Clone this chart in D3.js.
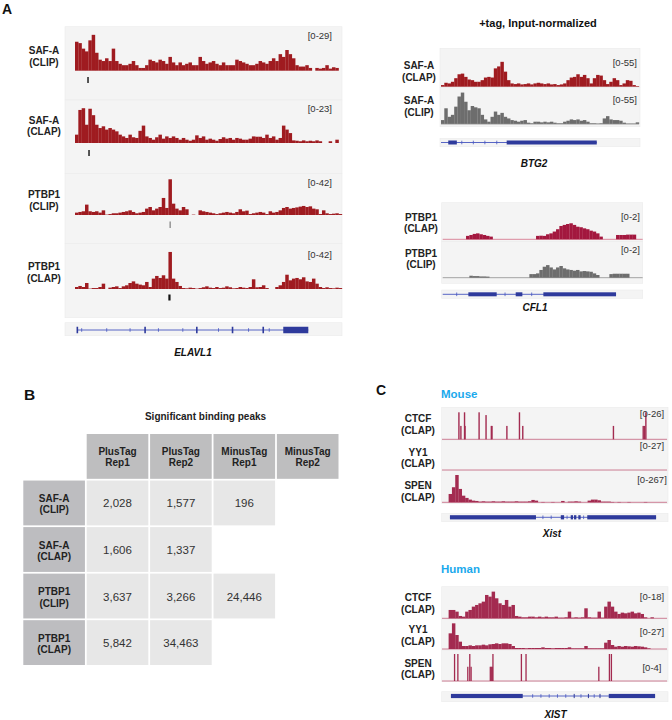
<!DOCTYPE html>
<html><head><meta charset="utf-8">
<script src="https://cdn.jsdelivr.net/npm/d3@7/dist/d3.min.js"></script>
<style>body{margin:0;background:#fff}svg{display:block;font-family:"Liberation Sans",Arial,Helvetica,sans-serif}</style>
</head><body><svg id="fig" width="672" height="720"></svg>
<script>
// ---------------- DATA ----------------
// Panel A left: ELAVL1 locus, 80 bins
const elavl1SafaClip = [21,20,16,14,22,26,13,8,7,9, 7,16,7,5,4,4,5,7,4,2, 2,4,8,7,6,8,7,5,10,6, 4,6,4,5,6,4,4,10,7,5, 6,7,5,4,6,4,4,4,8,7, 6,5,4,4,5,7,6,5,7,9, 7,12,10,15,12,9,4,3,3,4, 2,0,2,1.5,2,4,1.5,2.5,2,0];
const elavl1SafaClap = [4.8,19,20,10.5,19.7,16,10.5,8.6,9.6,7.7, 8.6,7.7,6.7,4.8,3.8,2.9,4.8,3.3,2.9,7, 10,3.8,2.9,1.9,3.3,4.8,2.5,3.8,2.9,3.8, 2.9,1.9,2.9,1.9,1.3,1.9,4.4,2.9,3.8,1.9, 2.5,1.9,1.3,2.3,3.3,2.5,2.9,1.9,2.9,2.5, 1.9,1.9,2.5,3.8,3.6,3.6,2.9,4.8,2.9,3.8, 1.9,2.9,10,7.7,5.7,1.5,1.3,1,1.5,1, 1.3,1,1.5,1,0,0,1,0,1.9,0];
const elavl1PtbpClip = [2.5,3.2,3.9,10.9,3.9,3.2,3.9,2.5,4.9,0.4, 1,1.8,1.8,2.5,3.2,3.9,4.9,3.2,1.8,2.5, 3.2,6.7,8.4,4.9,6.7,8.4,17.9,7.4,37.5,11.9, 6.7,4.9,8.4,6,0,0.4,0,4.9,3.9,3.2, 2.5,1.8,1,1.8,2.5,3.2,2.5,1.8,3.2,6, 3.9,4.6,1,1.8,2.5,3.2,2.5,1,3.9,2.5, 3.2,4.9,7.4,8.4,6.7,7.4,8,8.8,9.5,8.4, 9.1,6.7,6,1,4.9,1.8,1,1.4,1.8,1];
const elavl1PtbpClap = [2.1,3.2,2.1,6.3,0.4,1,1,2.1,5.6,0, 1.4,2.1,2.8,1,2.8,3.9,6.3,8,5.6,4.6, 3.9,7.4,2.1,10.9,13.7,11.6,14.4,10.9,38.9,10.9, 7.4,3.2,1,0.7,1.4,1,0.4,1,1.8,2.8, 1.4,1,2.1,1,1.4,2.8,1.8,0.7,1,2.1, 1.4,1,2.1,10.2,1.8,2.1,3.9,1,0,0, 2.1,3.9,7.4,15,9.1,10.9,11.6,10.2,12.3,8, 7.4,10.9,5.6,2.1,1,1.8,1,0.7,1.4,1];
const elavl1Ranges = ["[0-29]","[0-23]","[0-42]","[0-42]"];
const elavl1Labels = [["SAF-A","(CLIP)"],["SAF-A","(CLAP)"],["PTBP1","(CLIP)"],["PTBP1","(CLAP)"]];
const elavl1Max = [29,23,42,42];
const elavl1PeakPos = [3.9,4.2,28.5,28.3];
const elavl1GeneLine = [0.6,69.9];
const elavl1GeneThick = [[62.4,69.9]];
const elavl1GeneExons = [0.7,21,36.5,47.2,56.4];
const elavl1GeneArrows = [2,9.5,16.5,25,32.3,43,52,58.2];

// Panel A right: BTG2, 60 bins
const btg2SafaClap = [2.5,6,5,7.5,13,19,20,15,11,10, 7.5,7.5,10,14,15,14,28,31,38,23, 10,5,4,5,3.5,4,5,3.5,5,6, 5,4,5,3.5,4,2.5,3.5,5,10,14, 15,19,15,18,13,5,13,18,17,10, 4,7.5,13,10,2.5,5,10,9,2.5,1];
const btg2SafaClip = [6,24,11,14,26.5,42,48,34,21,27.5, 25.5,24,14,7,3.5,11,19,14,17,11, 8.5,6,5,3.5,5,6,2,1,3.5,3.5, 2.5,3.5,2.5,3.5,2,1,1,3.5,5,7, 6,7,5,6,3.5,1,1,0.5,1,8.5, 12,7,6,6,5,2,0.5,0.5,0.5,2.5];
const btg2GeneLine = [0,47.2];
const btg2GeneThick = [[2.2,4.8],[19.9,47.2]];
const btg2GeneArrows = [6.3,9.8,13.3,16.9];

// CFL1, 60 bins
const cfl1PtbpClap = [0,0,0,0,0,0,0, 0.19,0.24,0.3,0.33,0.28,0.24,0.19,0.15, 0, 0,0,0,0,0,0,0,0,0,0,0,0, 0.19,0.2,0.19,0.28,0.33,0.43,0.56,0.74,0.8,0.85,0.89,0.8,0.7,0.67,0.61,0.56,0.48,0.43,0.33,0.15, 0,0,0,0, 0.24,0.24,0.24,0.26,0.26,0.26, 0,0];
const cfl1PtbpClip = [0,0,0,0,0,0,0,0, 0.11,0.09,0.09,0.07,0.07,0.06, 0,0,0,0,0,0,0,0,0,0,0,0, 0.2,0.2,0.24,0.43,0.61,0.7,0.57,0.46,0.57,0.65,0.52,0.46,0.43,0.39,0.43,0.35,0.37,0.35,0.33,0.24,0.15, 0,0,0, 0.2,0.22,0.22,0.22,0.22,0.22, 0,0,0,0];
const cfl1GeneLine = [0,52];
const cfl1GeneThick = [[7.7,16.2],[21.9,23.9],[30.2,52]];
const cfl1GeneArrows = [4.2,18.7,26.7];

// Panel B table
const tableCols = [["PlusTag","Rep1"],["PlusTag","Rep2"],["MinusTag","Rep1"],["MinusTag","Rep2"]];
const tableRows = [["SAF-A","(CLIP)"],["SAF-A","(CLAP)"],["PTBP1","(CLIP)"],["PTBP1","(CLAP)"]];
const tableValues = [[2028,1577,196,null],[1606,1337,null,null],[3637,3266,24446,null],[5842,34463,null,null]];

// Panel C: Xist / XIST, 68 bins
const mouseCtcfPos = [4.9,5.5,6.6,6.75,11,13.1,14.7,14.9,19.4,23.2,24.2,51.6,60.6,61,61.4];
const mouseCtcfVal = [23.4,11.6,23.4,11.6,23.4,21,11.6,11.6,11.6,23.4,11.6,11.6,11.6,11.6,23.4];
const mouseYy1 = [];
const mouseSpen = [0,0,74,134,243,119,59,39,24,15, 12,6,9,6,6,9,6,6,9,6, 6,6,9,6,6,6,9,21,15,0, 3,0,0,3,0,0,12,0,6,6, 9,6,0,0,15,24,24,18,6,6, 6,3,0,3,0,0,3,0,0,0, 0,3,0,0,0,0,0,0];
const humanCtcf = [0,0,5,5,4,1.4,1,4,5,7, 8,9,10,14,13,16,12,9,8,11, 7,8,1.4,1,0.6,0.6,1,1,0.6,1, 0.6,1,0.6,0.6,1,0.4,0.4,0.6,4,0.4, 0.6,0.4,0.6,6,0.6,0.4,0.4,4,0.4,7, 10,7,4,2.6,3.4,3,3.4,4,3,3.4, 2.6,0.6,0,0.6,0,0,0,0];
const humanYy1 = [0,0,14.1,23.1,12.6,6.6,2.7,2.7,3.3,2.7, 3.3,3.3,3.9,3.3,4.2,4.5,5.1,4.5,5.1,5.1, 4.5,2.7,0.9,0.9,0.9,0.6,0.9,0.9,0.9,0.9, 1.5,0.9,0.9,0.6,0.9,0.9,0.9,0.9,1.5,0.6, 0.6,0.6,0.6,2.7,0.6,0.6,0.6,0.6,0.6,5.7, 8.1,3.6,2.1,2.7,2.1,2.7,2.4,2.1,2.7,2.4, 2.1,1.5,0.6,0,0,0,0,0];
const humanSpenPos = [3.6,4.6,7.6,8.2,8.6,14.4,14.7,15.0,15.2,23.8,25.2,47.2,50.4,51.0];
const humanSpenVal = [3.6,3.6,1.9,3.6,1.9,1.9,1.9,1.9,3.6,3.6,3.6,1.9,3.6,3.6];
const xistLabels = [["CTCF","(CLAP)"],["YY1","(CLAP)"],["SPEN","(CLAP)"]];
const mouseRanges = ["[0-26]","[0-27]","[0-267]"];
const humanRanges = ["[0-18]","[0-27]","[0-4]"];
const mouseMax = [26,27,267];
const humanMax = [18,27,4];
const mouseGeneLine = [2.4,64.7];
const mouseGeneThick = [[2.4,28.4],[43.9,64.7],[35.9,36.9],[38.9,39.6],[39.9,40.6],[41.2,41.9]];
const mouseGeneArrows = [30.5,33,37.8,42.8];
const humanGeneLine = [2.7,64.4];
const humanGeneThick = [[2.7,24.4],[50.4,64.4],[39.8,40.1],[44.1,44.4],[47.6,47.9]];
const humanGeneArrows = [27.4,29.9,32.4,34.9,37.4,42,46];

// ---------------- DRAWING ----------------
const svg = d3.select('#fig');
svg.append('rect').attr('width',672).attr('height',720).attr('fill','#fff');
const RED = '#9f1b20', GRAY = '#6d6d6d', CRIM = '#a3173e', MAR = '#a32b50', BLUE = '#2e3a9c', BG = '#f4f4f4';

function bg(x0,x1,y0,y1){ svg.append('rect').attr('x',x0).attr('y',y0).attr('width',x1-x0).attr('height',y1-y0).attr('fill',BG).attr('stroke','#ebebeb').attr('stroke-width',0.6); }
function bars(vals,x,base,maxV,fullH,color){
  const y = d3.scaleLinear().domain([0,maxV]).range([base,base-fullH]);
  svg.append('g').selectAll('rect').data(vals.map((v,i)=>({v,i})).filter(d=>d.v>0)).join('rect')
    .attr('x',d=>x(d.i)).attr('width',d=>x(d.i+1)-x(d.i)+0.15)
    .attr('y',d=>y(d.v)).attr('height',d=>base-y(d.v)).attr('fill',color);
}
function spikes(pos,vals,x,base,maxV,fullH,color,w){
  const y = d3.scaleLinear().domain([0,maxV]).range([base,base-fullH]);
  svg.append('g').selectAll('rect').data(pos.map((p,i)=>({p,v:vals[i]}))).join('rect')
    .attr('x',d=>x(d.p)).attr('width',w).attr('y',d=>y(d.v)).attr('height',d=>base-y(d.v)).attr('fill',color);
}
function hline(x0,x1,y,color,w){ svg.append('line').attr('x1',x0).attr('x2',x1).attr('y1',y).attr('y2',y).attr('stroke',color).attr('stroke-width',w||1); }
function text(t,x,y,o){ o=o||{}; return svg.append('text').text(t).attr('x',x).attr('y',y)
  .attr('font-size',o.size||10).attr('font-weight',o.weight||'normal').attr('font-style',o.style||'normal')
  .attr('text-anchor',o.anchor||'start').attr('fill',o.fill||'#222'); }
function label2(lines,x,y1,y2){ text(lines[0],x,y1,{weight:'bold',anchor:'middle'}); text(lines[1],x,y2,{weight:'bold',anchor:'middle'}); }
function gene(x,yc,line,thick,exons,arrows,thickH,exH){
  const g = svg.append('g');
  g.append('line').attr('x1',x(line[0])).attr('x2',x(line[1])).attr('y1',yc).attr('y2',yc).attr('stroke','#4656c0').attr('stroke-width',0.9);
  g.selectAll('.ar').data(arrows).join('line').attr('x1',d=>x(d)).attr('x2',d=>x(d)).attr('y1',yc-1.8).attr('y2',yc+1.8).attr('stroke','#4656c0').attr('stroke-width',0.8);
  g.selectAll('.th').data(thick).join('rect').attr('x',d=>x(d[0])).attr('width',d=>Math.max(1,x(d[1])-x(d[0]))).attr('y',yc-thickH/2).attr('height',thickH).attr('fill',BLUE);
  g.selectAll('.ex').data(exons).join('rect').attr('x',d=>x(d)-0.8).attr('width',1.6).attr('y',yc-exH/2).attr('height',exH).attr('fill',BLUE);
}

// ===== Panel A left =====
text('A',2,13.5,{size:14,weight:'bold',fill:'#111'});
const xL = d3.scaleLinear().domain([0,80]).range([75,342]);
const lBoxes = [[26.7,100],[100,173.3],[173.3,243.3],[243.3,317.7]];
lBoxes.forEach(b=>bg(65,342,b[0],b[1]));
bg(65,342,322.7,335.7);
const lBase = [70.7,143,215,289];
const lData = [elavl1SafaClip,elavl1SafaClap,elavl1PtbpClip,elavl1PtbpClap];
lData.forEach((d,i)=>bars(d,xL,lBase[i],elavl1Max[i],40,RED));
const lLab = [[54,65.5],[123.5,135],[198.3,210],[270,281.5]];
const lRangeY = [39,111.7,186,257.7];
elavl1Labels.forEach((l,i)=>{ label2(l,44,lLab[i][0],lLab[i][1]); text(elavl1Ranges[i],332,lRangeY[i],{size:9.5,anchor:'end',fill:'#333'}); });
const peakY = [[77,83],[150,156],[221.5,228],[294.5,300.5]];
const peakCol = ['#111','#111','#666','#111'];
const peakW = [1.4,1.4,1,2.2];
elavl1PeakPos.forEach((p,i)=>svg.append('rect').attr('x',xL(p)-peakW[i]/2).attr('width',peakW[i]).attr('y',peakY[i][0]).attr('height',peakY[i][1]-peakY[i][0]).attr('fill',peakCol[i]));
gene(xL,330,elavl1GeneLine,elavl1GeneThick,elavl1GeneExons,elavl1GeneArrows,6.5,6.5);
text('ELAVL1',193,356,{weight:'bold',style:'italic',anchor:'middle',fill:'#111'});

// ===== Panel A right =====
text('+tag, Input-normalized',538,27.3,{size:11,weight:'bold',anchor:'middle',fill:'#111'});
const xB = d3.scaleLinear().domain([0,60]).range([441,639]);
bg(440,640,48.3,87.3); bg(440,640,87.3,126.7); bg(440,640,138.3,146.7);
bars(btg2SafaClap,xB,86.7,55,36,RED);
bars(btg2SafaClip,xB,124,55,36,GRAY);
hline(441,639,124,'#8a8a8a',0.8);
label2(["SAF-A","(CLAP)"],419,69.3,80.5); label2(["SAF-A","(CLIP)"],419,104,115.5);
text('[0-55]',637,65.5,{size:9.5,anchor:'end',fill:'#333'}); text('[0-55]',637,103,{size:9.5,anchor:'end',fill:'#333'});
gene(xB,142.5,btg2GeneLine,btg2GeneThick,[],btg2GeneArrows,4,4);
text('BTG2',534,167,{weight:'bold',style:'italic',anchor:'middle',fill:'#111'});

const xF = d3.scaleLinear().domain([0,60]).range([442.7,642.7]);
bg(441.7,642.7,202.7,241.7); bg(441.7,642.7,241.7,283.3); bg(441.7,642.7,290,298.3);
hline(442.7,642.7,239.3,'#d77b92',0.9);
hline(442.7,642.7,277.7,'#9a9a9a',0.9);
bars(cfl1PtbpClap,xF,239.3,2,36,CRIM);
bars(cfl1PtbpClip,xF,277.7,2,36,GRAY);
label2(["PTBP1","(CLAP)"],421,220.7,232); label2(["PTBP1","(CLIP)"],421,256.7,268);
text('[0-2]',640,220,{size:9.5,anchor:'end',fill:'#333'}); text('[0-2]',640,253,{size:9.5,anchor:'end',fill:'#333'});
gene(xF,294.3,cfl1GeneLine,cfl1GeneThick,[],cfl1GeneArrows,4,4);
text('CFL1',535,311,{weight:'bold',style:'italic',anchor:'middle',fill:'#111'});

// ===== Panel B =====
text('B',24,399.5,{size:15.5,weight:'bold',fill:'#111'});
text('Significant binding peaks',205.5,420,{weight:'bold',anchor:'middle',fill:'#222'});
const colX = d3.scaleBand().domain(d3.range(5)).range([23.3,338.5]).paddingInner(0.028);
const rowY = d3.scaleBand().domain(d3.range(5)).range([434,665]).paddingInner(0.037);
const cw = colX.bandwidth(), rh = rowY.bandwidth();
tableCols.forEach((c,j)=>{
  const x = colX(j+1), y = rowY(0);
  svg.append('rect').attr('x',x).attr('y',y).attr('width',cw).attr('height',rh).attr('fill','#bebebf');
  text(c[0],x+cw/2,y+rh/2-1.5,{weight:'bold',anchor:'middle',fill:'#222'});
  text(c[1],x+cw/2,y+rh/2+10,{weight:'bold',anchor:'middle',fill:'#222'});
});
tableRows.forEach((r,i)=>{
  const y = rowY(i+1);
  svg.append('rect').attr('x',colX(0)).attr('y',y).attr('width',cw).attr('height',rh).attr('fill','#bdbdc0');
  text(r[0],colX(0)+cw/2,y+rh/2-1,{weight:'bold',anchor:'middle',fill:'#222'});
  text(r[1],colX(0)+cw/2,y+rh/2+10.5,{weight:'bold',anchor:'middle',fill:'#222'});
  tableValues[i].forEach((v,j)=>{
    if(v==null) return;
    const x = colX(j+1);
    svg.append('rect').attr('x',x).attr('y',y).attr('width',cw).attr('height',rh).attr('fill','#e7e7e7');
    text(d3.format(',')(v),x+cw/2,y+rh/2+4.5,{size:11.5,anchor:'middle',fill:'#333'});
  });
});

// ===== Panel C =====
text('C',376,395,{size:14,weight:'bold',fill:'#111'});
const xC = d3.scaleLinear().domain([0,68]).range([442,667]);
text('Mouse',441,397.5,{size:11.5,weight:'bold',fill:'#1aa9ec'});
[[407.3,440],[440,470.7],[470.7,503.3]].forEach(b=>bg(441.7,668,b[0],b[1]));
bg(441.7,668,513.3,521.7);
const mBase = [439.3,470,502.3];
mBase.forEach(b=>hline(442,667,b,'#c9728a',0.9));
spikes(mouseCtcfPos,mouseCtcfVal,xC,mBase[0],mouseMax[0],30,MAR,1.4);
bars(mouseYy1,xC,mBase[1],mouseMax[1],30,MAR);
bars(mouseSpen,xC,mBase[2],mouseMax[2],30,MAR);
const mLab = [[422.3,434],[455.7,467],[489,500.5]];
const mRY = [416.7,449.3,483];
xistLabels.forEach((l,i)=>{ label2(l,418,mLab[i][0],mLab[i][1]); text(mouseRanges[i],652,mRY[i],{size:9.5,anchor:'middle',fill:'#333'}); });
gene(xC,517.3,mouseGeneLine,mouseGeneThick,[],mouseGeneArrows,4.2,4.2);
text('Xist',552,536.5,{weight:'bold',style:'italic',anchor:'middle',fill:'#111'});

text('Human',441,573,{size:11.5,weight:'bold',fill:'#1aa9ec'});
[[586.7,619],[619,650],[650,681.7]].forEach(b=>bg(441.7,668,b[0],b[1]));
bg(441.7,668,691.7,701.7);
const hBase = [618.3,649,681];
hBase.forEach(b=>hline(442,667,b,'#c9728a',0.9));
bars(humanCtcf,xC,hBase[0],humanMax[0],30,MAR);
bars(humanYy1,xC,hBase[1],humanMax[1],30,MAR);
spikes(humanSpenPos,humanSpenVal,xC,hBase[2],humanMax[2],30,MAR,1.3);
const hLab = [[601,612.5],[633.3,644.5],[666.7,678]];
const hRY = [600,635,670.7];
xistLabels.forEach((l,i)=>{ label2(l,418,hLab[i][0],hLab[i][1]); text(humanRanges[i],652,hRY[i],{size:9.5,anchor:'middle',fill:'#333'}); });
gene(xC,696,humanGeneLine,humanGeneThick,[],humanGeneArrows,4.2,4.2);
text('XIST',555.5,717.5,{weight:'bold',style:'italic',anchor:'middle',fill:'#111'});
</script></body></html>
